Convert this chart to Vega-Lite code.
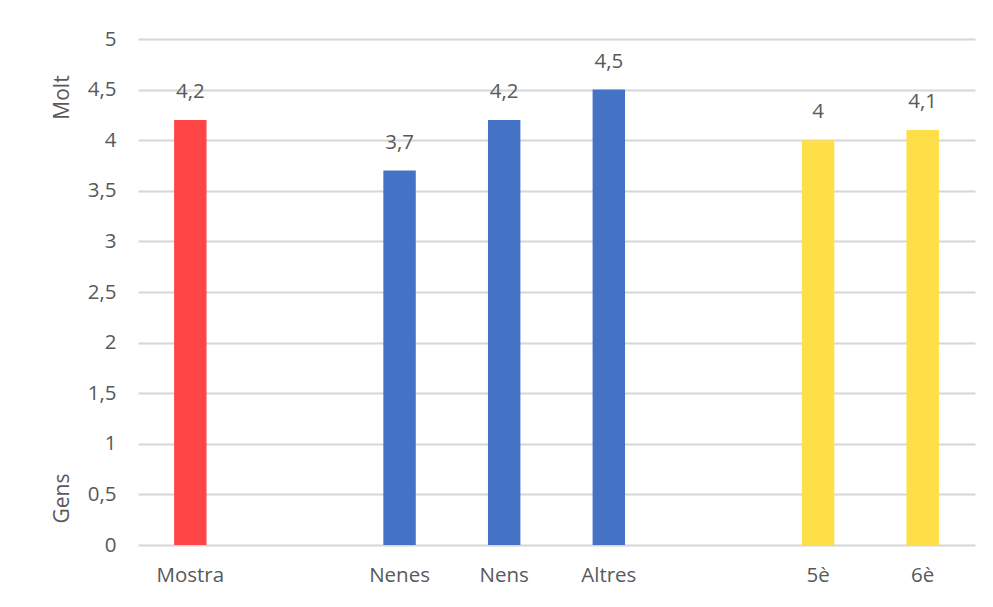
{
  "$schema": "https://vega.github.io/schema/vega-lite/v6.json",
  "width": 837,
  "height": 506,
  "autosize": "none",
  "padding": {"left": 138, "top": 39, "right": 18, "bottom": 62},
  "background": "white",
  "config": {
    "locale": {"number": {"decimal": ",", "thousands": ".", "grouping": [3], "currency": ["", " €"]}},
    "view": {"stroke": null},
    "font": "Open Sans",
    "axis": {
      "labelFont": "Open Sans",
      "labelFontSize": 20.5,
      "labelColor": "#595959",
      "titleFont": "Open Sans",
      "titleFontSize": 21,
      "titleColor": "#595959",
      "titleFontWeight": "normal"
    }
  },
  "data": {
    "values": [
      {"grup": "Mostra", "categoria": "Mostra", "valor": 4.2},
      {"grup": "Gènere", "categoria": "Nenes", "valor": 3.7},
      {"grup": "Gènere", "categoria": "Nens", "valor": 4.2},
      {"grup": "Gènere", "categoria": "Altres", "valor": 4.5},
      {"grup": "Curs", "categoria": "5è", "valor": 4.0},
      {"grup": "Curs", "categoria": "6è", "valor": 4.1}
    ]
  },
  "encoding": {
    "x": {
      "field": "categoria",
      "type": "nominal",
      "sort": null,
      "scale": {
        "domain": ["Mostra", " ", "Nenes", "Nens", "Altres", "  ", "5è", "6è"],
        "paddingInner": 0.69,
        "paddingOuter": 0.345
      },
      "axis": {
        "title": null,
        "labelAngle": 0,
        "domain": false,
        "ticks": false,
        "labelPadding": 20,
        "grid": false
      }
    }
  },
  "layer": [
    {
      "mark": {"type": "bar"},
      "encoding": {
        "y": {
          "field": "valor",
          "type": "quantitative",
          "scale": {"domain": [0, 5], "nice": false},
          "axis": {
            "title": "Molt",
            "titleAngle": -90,
            "titleAlign": "center",
            "titleBaseline": "middle",
            "titleX": -76,
            "titleY": 58,
            "values": [0, 0.5, 1, 1.5, 2, 2.5, 3, 3.5, 4, 4.5, 5],
            "format": "~g",
            "domain": false,
            "ticks": false,
            "labelPadding": 22,
            "grid": true,
            "gridColor": "#d6d6d6",
            "gridWidth": 1.8
          }
        },
        "color": {
          "field": "grup",
          "type": "nominal",
          "scale": {"domain": ["Mostra", "Gènere", "Curs"], "range": ["#FF4545", "#4472C4", "#FFDF47"]},
          "legend": null
        }
      }
    },
    {
      "mark": {"type": "text", "baseline": "alphabetic", "dy": -22, "fontSize": 20.5, "color": "#595959", "font": "Open Sans"},
      "encoding": {
        "y": {
          "field": "valor",
          "type": "quantitative",
          "scale": {"domain": [0, 5], "nice": false},
          "axis": {
            "orient": "left",
            "title": "Gens",
            "titleAngle": -90,
            "titleAlign": "center",
            "titleBaseline": "middle",
            "titleX": -76,
            "titleY": 459,
            "labels": false,
            "domain": false,
            "ticks": false,
            "grid": false
          }
        },
        "text": {"field": "valor", "type": "quantitative", "format": "~g"}
      }
    }
  ],
  "resolve": {"axis": {"y": "independent"}}
}
